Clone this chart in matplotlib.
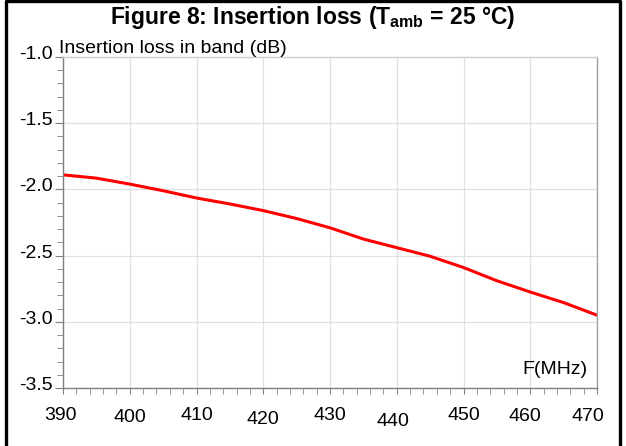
import matplotlib
matplotlib.use("Agg")
import matplotlib.pyplot as plt
from matplotlib.lines import Line2D
from matplotlib.transforms import ScaledTranslation

plt.rcParams['font.family'] = ['Liberation Sans', 'DejaVu Sans']
plt.rcParams['mathtext.fontset'] = 'custom'
plt.rcParams['mathtext.rm'] = 'Liberation Sans'
plt.rcParams['mathtext.bf'] = 'Liberation Sans:bold'

# data (MHz, dB)
freq = [390, 395, 400, 405, 410, 415, 420, 425, 430, 435, 440, 445, 450, 455, 460, 465, 470]
loss = [-1.89, -1.915, -1.96, -2.01, -2.065, -2.11, -2.16, -2.22, -2.29, -2.375,
        -2.44, -2.505, -2.59, -2.69, -2.775, -2.855, -2.95]

xticks = [390, 400, 410, 420, 430, 440, 450, 460, 470]
yticks = [-3.5, -3.0, -2.5, -2.0, -1.5, -1.0]

W, H = 626, 446
fig = plt.figure(figsize=(W / 100, H / 100), dpi=100)
ax = fig.add_axes([63 / W, 1 - 388 / H, 534 / W, 331 / H])

ax.plot(freq, loss, color='#ff0000', lw=2.2, solid_capstyle='round')

ax.set_xlim(390, 470)
ax.set_ylim(-3.5, -1.0)
ax.set_xticks(xticks)
ax.set_xticks(range(390, 471, 2), minor=True)
ax.set_yticks(yticks)
ax.set_yticks([v / 10 for v in range(-35, -9)], minor=True)
ax.set_yticklabels(['%.1f' % v for v in yticks])
ax.grid(True, which='major', color='#e0e0e0', lw=0.9)
ax.set_axisbelow(True)

ax.tick_params(axis='both', which='both', colors='#808080', labelcolor='black',
               labelsize=14, direction='out')
ax.tick_params(axis='y', which='major', length=6, pad=1.5)
ax.tick_params(axis='y', which='minor', length=4)
ax.tick_params(axis='x', which='major', length=4, pad=10)
ax.tick_params(axis='x', which='minor', length=4)

ax.spines['left'].set_color('#808080')
ax.spines['bottom'].set_color('#808080')
ax.spines['right'].set_color('#a0a0a0')
ax.spines['top'].set_color('#d0d0d0')
for s in ax.spines.values():
    s.set_linewidth(1.0)

# y labels sit a bit above their ticks
for lab in ax.get_yticklabels():
    lab.set_transform(lab.get_transform() + ScaledTranslation(0, 4.5 / 100, fig.dpi_scale_trans))

# x labels are slightly staggered in the original
x_dy = [0, -2, 0, -4, 0, -6, 0, -1, -1]
x_dx = [-3, 0, 0, 0, 0, -4, 0, -5, -9]
for lab, dx, dy in zip(ax.get_xticklabels(), x_dx, x_dy):
    lab.set_transform(lab.get_transform() + ScaledTranslation(dx / 100, dy / 100, fig.dpi_scale_trans))

fig.text(0.5, 1 - 24 / H, r'Figure 8: Insertion loss (T$_{\mathbf{amb}}$ = 25 °C)',
         ha='center', va='baseline', fontsize=16.5, fontweight='bold')
fig.text(59 / W, 1 - 53 / H, 'Insertion loss in band (dB)',
         ha='left', va='baseline', fontsize=14)
fig.text(587 / W, 1 - 370 / H, 'F(MHz)', ha='right', va='center', fontsize=14)

# black frame around the figure (bottom edge cropped)
fig.add_artist(Line2D([6 / W, 6 / W, 620 / W, 620 / W], [0, 1 - 1.3 / H, 1 - 1.3 / H, 0],
                      transform=fig.transFigure, color='black', lw=2.4))

fig.savefig('out.png', dpi=100)
